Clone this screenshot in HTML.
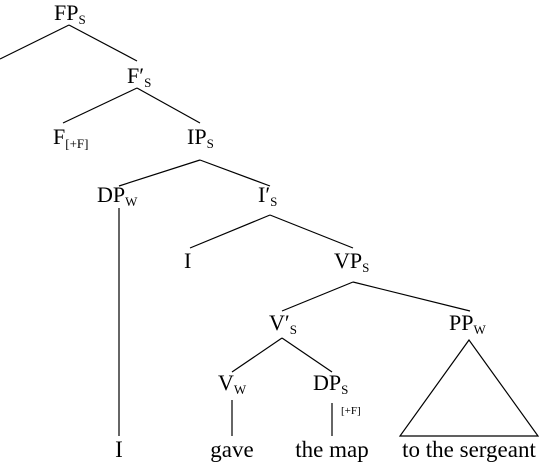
<!DOCTYPE html>
<html><head><meta charset="utf-8"><style>
html,body{margin:0;padding:0;background:#fff;}
svg text{font-family:"Liberation Serif",serif;fill:#000;font-size:22px;}
.m{text-anchor:middle;font-size:23px;}
.s{font-size:13px;}
</style></head><body>
<svg width="539" height="463" viewBox="0 0 539 463" xmlns="http://www.w3.org/2000/svg">
<g stroke="#000" stroke-width="1.2" fill="none">
<line x1="69" y1="25" x2="0" y2="59"/>
<line x1="69" y1="25" x2="137" y2="61"/>
<line x1="137" y1="88" x2="63" y2="123"/>
<line x1="137" y1="88" x2="200" y2="123"/>
<line x1="200" y1="160" x2="119" y2="186"/>
<line x1="200" y1="160" x2="270" y2="186"/>
<line x1="119" y1="208" x2="119" y2="436"/>
<line x1="270" y1="215" x2="190" y2="248"/>
<line x1="270" y1="215" x2="353" y2="248"/>
<line x1="353" y1="282" x2="282" y2="311"/>
<line x1="353" y1="282" x2="470" y2="311"/>
<line x1="282" y1="338" x2="232" y2="372"/>
<line x1="282" y1="338" x2="332" y2="372"/>
<line x1="232" y1="400" x2="232" y2="436"/>
<line x1="332" y1="403" x2="332" y2="436"/>
<polygon points="469,340 400,436 538,436"/>
</g>
<text x="54" y="20">FP<tspan class="s" dy="4">S</tspan></text>
<text x="127" y="83">F′<tspan class="s" dy="4">S</tspan></text>
<text x="53" y="144">F<tspan class="s" dy="4">[+F]</tspan></text>
<text x="187" y="144">IP<tspan class="s" dy="4">S</tspan></text>
<text x="97" y="202">DP<tspan class="s" dy="4">W</tspan></text>
<text x="258" y="202">I′<tspan class="s" dy="4">S</tspan></text>
<text x="184" y="268">I</text>
<text x="334" y="268">VP<tspan class="s" dy="4">S</tspan></text>
<text x="269" y="330">V′<tspan class="s" dy="4">S</tspan></text>
<text x="449" y="330">PP<tspan class="s" dy="4">W</tspan></text>
<text x="218" y="390">V<tspan class="s" dy="4">W</tspan></text>
<text x="313" y="390">DP<tspan class="s" dy="4">S</tspan></text>
<text x="341" y="414" style="font-size:11px">[+F]</text>
<text x="119" y="457" class="m">I</text>
<text x="232" y="457" class="m">gave</text>
<text x="332" y="457" class="m">the map</text>
<text x="469" y="457" class="m">to the sergeant</text>
</svg>
</body></html>
